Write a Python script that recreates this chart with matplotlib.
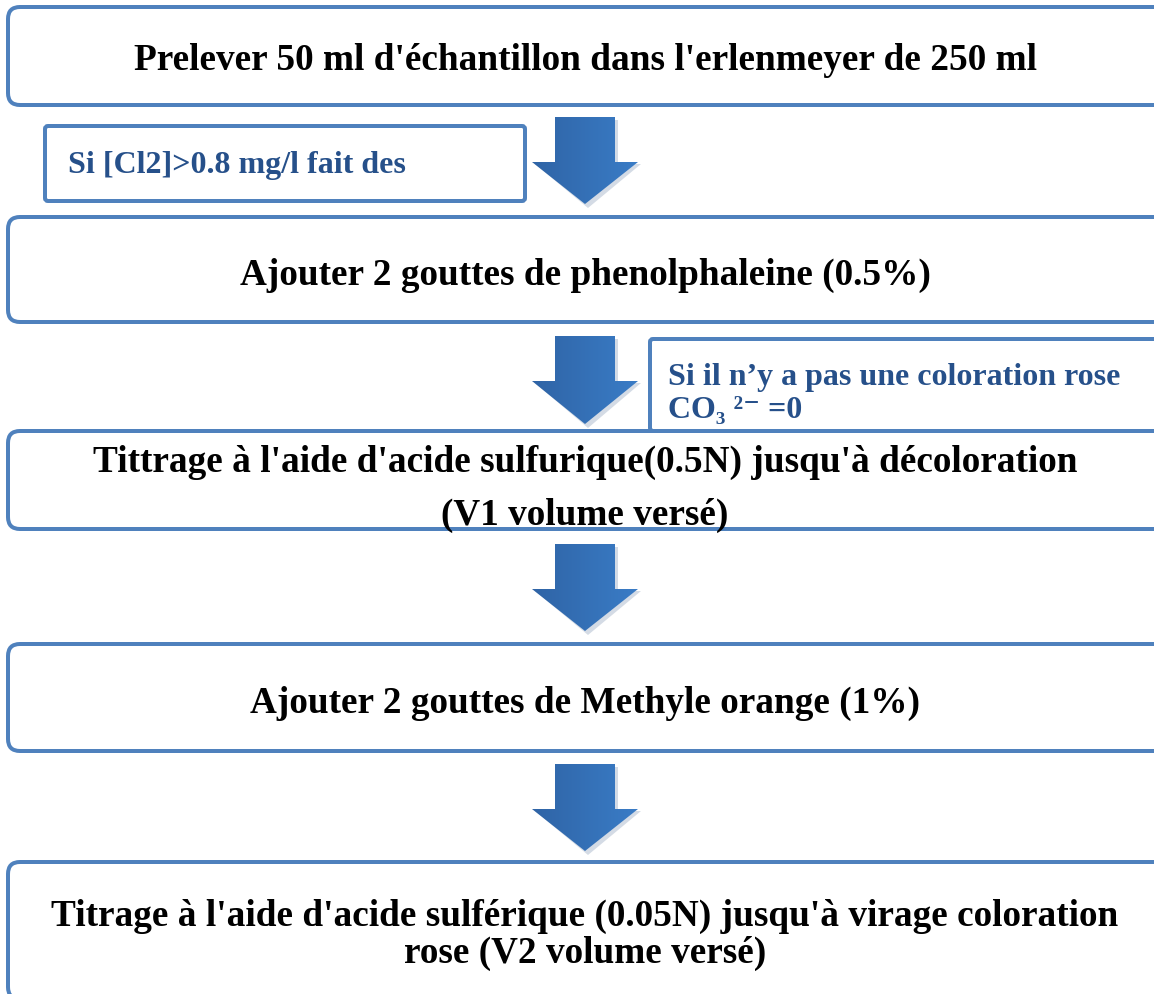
import numpy as np
import matplotlib
matplotlib.use("Agg")
import matplotlib.pyplot as plt
from matplotlib.patches import FancyBboxPatch, Polygon

# Step texts of the flow chart (top to bottom)
steps = [
    "Prelever 50 ml d'échantillon dans l'erlenmeyer de 250 ml",
    "Ajouter 2 gouttes de phenolphaleine (0.5%)",
    "Tittrage à l'aide d'acide sulfurique(0.5N) jusqu'à décoloration",
    "Ajouter 2 gouttes de Methyle orange (1%)",
    "Titrage à l'aide d'acide sulférique (0.05N) jusqu'à virage coloration\nrose (V2 volume versé)",
]
step3_second_line = "(V1 volume versé)"
notes = [
    "Si [Cl2]>0.8 mg/l fait des",
    "Si il n’y a pas une coloration rose\nCO₃ ²⁻ =0",
]

# Layout in pixel units (y downwards)
box_y = [(8, 106), (218, 323), (432, 530), (645, 752), (863, 1000)]
arrow_y = [(118, 205), (337, 425), (545, 632), (765, 852)]

EDGE = "#4F81BD"
NOTE_COLOR = "#26508A"
FONT = ["Liberation Serif", "DejaVu Serif"]

fig = plt.figure(figsize=(11.54, 9.95), dpi=100)
ax = fig.add_axes([0, 0, 1, 1])
ax.set_xlim(0, 1154)
ax.set_ylim(995, 0)
ax.axis("off")


def draw_box(x0, y0, x1, y1, lw=4, rounding=12):
    patch = FancyBboxPatch((x0, y0), x1 - x0, y1 - y0,
                           boxstyle="round,pad=0,rounding_size=%d" % rounding,
                           fc="white", ec=EDGE, lw=lw * 0.72)
    ax.add_patch(patch)


def draw_arrow(y0, y1, xc=585):
    # soft shadow
    sh = Polygon([(xc - 30 + 3, y0 + 3), (xc + 30 + 3, y0 + 3),
                  (xc + 30 + 3, y0 + 47), (xc + 53 + 3, y0 + 47),
                  (xc + 3, y1 + 4), (xc - 53 + 3, y0 + 47),
                  (xc - 30 + 3, y0 + 47)],
                 closed=True, fc="#b8c4d4", ec="none", alpha=0.6)
    ax.add_patch(sh)
    pts = [(xc - 30, y0), (xc + 30, y0), (xc + 30, y0 + 45),
           (xc + 53, y0 + 45), (xc, y1), (xc - 53, y0 + 45),
           (xc - 30, y0 + 45)]
    poly = Polygon(pts, closed=True, fc="none", ec="none")
    ax.add_patch(poly)
    grad = np.linspace(0, 1, 64).reshape(1, -1)
    cmap = matplotlib.colors.LinearSegmentedColormap.from_list(
        "arr", ["#2F64A6", "#3A7CC6"])
    im = ax.imshow(grad, cmap=cmap, extent=(xc - 53, xc + 53, y1, y0),
                   aspect="auto", zorder=2)
    im.set_clip_path(poly)


# main boxes
for (y0, y1) in box_y:
    draw_box(8, y0, 1185, y1)

# arrows
for (y0, y1) in arrow_y:
    draw_arrow(y0, y1)

# side note boxes
draw_box(45, 127, 525, 202, lw=4, rounding=3)
draw_box(650, 340, 1185, 432, lw=4, rounding=3)

# step texts
text_y = [60, 275, 462, 703, 935]
for txt, ty in zip(steps, text_y):
    ax.text(585, ty, txt, ha="center", va="center", fontsize=26.8,
            fontweight="bold", family=FONT, color="black",
            linespacing=1.05)
ax.text(585, 515, step3_second_line, ha="center", va="center",
        fontsize=26.8, fontweight="bold", family=FONT, color="black")

# note texts
ax.text(68, 165, notes[0], ha="left", va="center", fontsize=23,
        fontweight="bold", family=FONT, color=NOTE_COLOR)
ax.text(668, 394, notes[1], ha="left", va="center", fontsize=23,
        fontweight="bold", family=FONT, color=NOTE_COLOR,
        linespacing=1.22)

fig.savefig("out.png", dpi=100)
